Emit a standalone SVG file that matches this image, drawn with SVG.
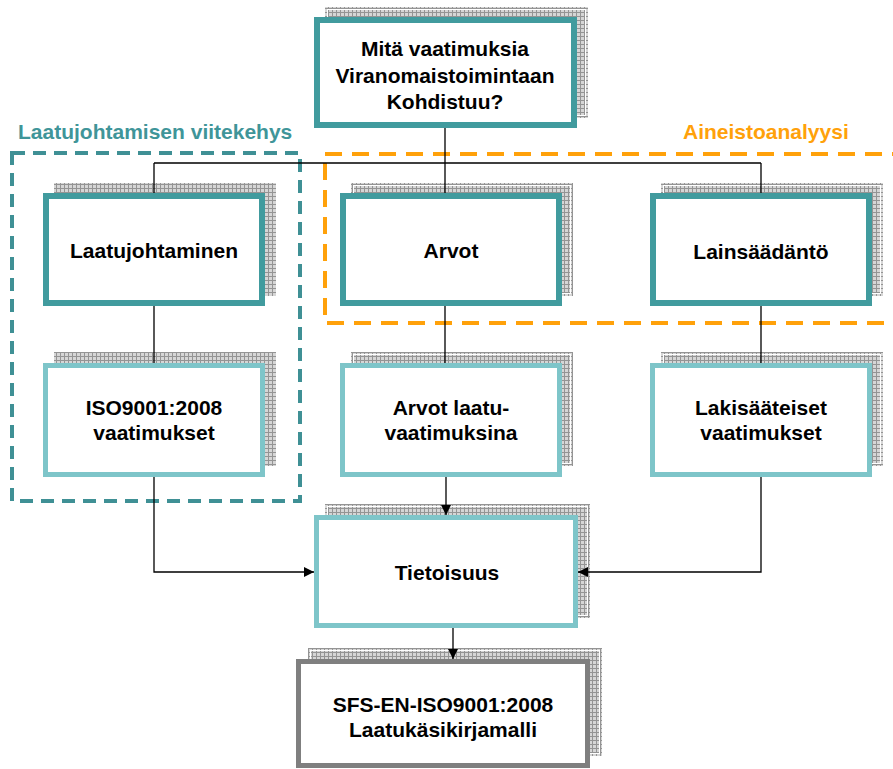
<svg xmlns="http://www.w3.org/2000/svg" width="893" height="769" viewBox="0 0 893 769">
<defs>
<pattern id="grid" width="4" height="4" patternUnits="userSpaceOnUse">
<rect width="4" height="4" fill="#d6d6d6"/>
<path d="M0 0.5H4M0.5 0V4" stroke="#949494" stroke-width="1"/>
</pattern>
<marker id="arr" viewBox="0 0 10 10" refX="10" refY="5" markerWidth="10" markerHeight="10" markerUnits="userSpaceOnUse" orient="auto">
<path d="M0 0L10 5L0 10Z" fill="#000"/>
</marker>
<style>
.sh{fill:url(#grid);}
.shl{fill:none;stroke:#fff;stroke-width:1;}
.dark{fill:#fff;stroke:#419b9e;stroke-width:6;}
.light{fill:#fff;stroke:#7ec5c9;stroke-width:5;}
.gray{fill:#fff;stroke:#7f7f7f;stroke-width:5;}
.t{font-family:"Liberation Sans",Arial,sans-serif;font-weight:bold;font-size:21px;fill:#000;text-anchor:middle;}
.lbl{font-family:"Liberation Sans",Arial,sans-serif;font-weight:bold;font-size:21px;}
.c{fill:none;stroke:#000;stroke-width:1.3;}
</style>
</defs>
<rect width="893" height="769" fill="#fff"/>

<g id="frames">
<rect x="12" y="153" width="288" height="348" fill="none" stroke="#3f9095" stroke-width="4" stroke-dasharray="13 8"/>
<rect x="325" y="154" width="600" height="169" fill="none" stroke="#ffa10a" stroke-width="4" stroke-dasharray="17 10"/>
<text class="lbl" x="18" y="139" fill="#3f9599">Laatujohtamisen viitekehys</text>
<text class="lbl" x="683" y="139" fill="#ffa10a">Aineistoanalyysi</text>
</g>

<g id="n-top">
<rect class="sh" x="325" y="7" width="263" height="111"/>
<rect class="shl" x="327.5" y="9.5" width="258" height="106"/>
<rect class="dark" x="317" y="20" width="257" height="105"/>
<text class="t" x="445" y="56">Mitä vaatimuksia</text>
<text class="t" x="445" y="83">Viranomaistoimintaan</text>
<text class="t" x="445" y="109">Kohdistuu?</text>
</g>

<g id="n-laatujohtaminen">
<rect class="sh" x="54" y="183" width="222" height="113"/>
<rect class="dark" x="46" y="196" width="216" height="107"/>
<text class="t" x="154" y="258">Laatujohtaminen</text>
</g>

<g id="n-arvot">
<rect class="sh" x="351" y="183" width="222" height="113"/>
<rect class="shl" x="353.5" y="185.5" width="217" height="108"/>
<rect class="dark" x="343" y="196" width="216" height="107"/>
<text class="t" x="451" y="258">Arvot</text>
</g>

<g id="n-lainsaadanto">
<rect class="sh" x="661" y="183" width="222" height="113"/>
<rect class="shl" x="663.5" y="185.5" width="217" height="108"/>
<rect class="dark" x="653" y="196" width="216" height="107"/>
<text class="t" x="761" y="259">Lainsäädäntö</text>
</g>

<g id="n-iso">
<rect class="sh" x="54" y="352" width="222" height="114"/>
<rect class="light" x="45.5" y="365.5" width="217" height="109"/>
<text class="t" x="154" y="415">ISO9001:2008</text>
<text class="t" x="154" y="440">vaatimukset</text>
</g>

<g id="n-arvotlaatu">
<rect class="sh" x="351" y="352" width="222" height="114"/>
<rect class="shl" x="353.5" y="354.5" width="217" height="109"/>
<rect class="light" x="342.5" y="365.5" width="217" height="109"/>
<text class="t" x="451" y="415">Arvot laatu-</text>
<text class="t" x="451" y="440">vaatimuksina</text>
</g>

<g id="n-lakisaateiset">
<rect class="sh" x="661" y="352" width="222" height="114"/>
<rect class="shl" x="663.5" y="354.5" width="217" height="109"/>
<rect class="light" x="652.5" y="365.5" width="217" height="109"/>
<text class="t" x="761" y="415">Lakisääteiset</text>
<text class="t" x="761" y="440">vaatimukset</text>
</g>

<g id="n-tietoisuus">
<rect class="sh" x="325" y="504" width="265" height="114"/>
<rect class="shl" x="327.5" y="506.5" width="260" height="109"/>
<rect class="light" x="316.5" y="517.5" width="259" height="108"/>
<text class="t" x="447" y="580">Tietoisuus</text>
</g>

<g id="n-sfs">
<rect class="sh" x="308" y="648" width="294" height="108"/>
<rect class="shl" x="310.5" y="650.5" width="289" height="103"/>
<rect class="gray" x="298.5" y="661.5" width="289" height="104"/>
<text class="t" x="443" y="712">SFS-EN-ISO9001:2008</text>
<text class="t" x="443" y="737">Laatukäsikirjamalli</text>
</g>

<g id="connectors">
<path class="c" d="M445 128V163M154 163H761M154 163V193M445 163V193M761 163V193"/>
<path class="c" d="M154 306V363M445 306V363M761 306V363"/>
<path class="c" d="M446 477V515" marker-end="url(#arr)"/>
<path class="c" d="M154 477V572H314" marker-end="url(#arr)"/>
<path class="c" d="M761 477V572H578" marker-end="url(#arr)"/>
<path class="c" d="M453 628V659" marker-end="url(#arr)"/>
</g>
</svg>
